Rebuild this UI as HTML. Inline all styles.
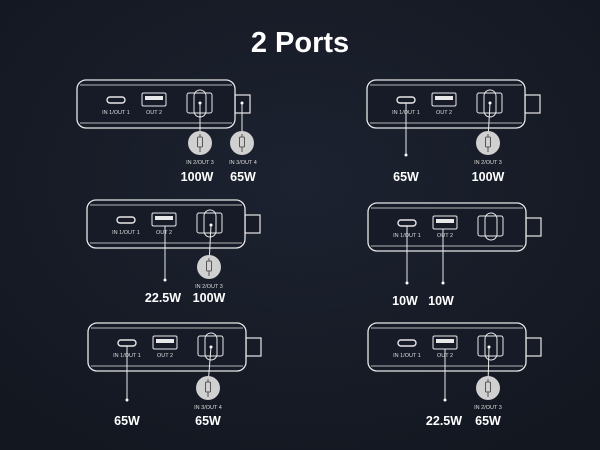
<!DOCTYPE html>
<html><head><meta charset="utf-8"><style>
html,body{margin:0;padding:0;background:#161b27;}
svg{display:block;}
text{font-family:"Liberation Sans",sans-serif;fill:#fff;text-anchor:middle;}
.l{font-size:5.5px;fill:#ddd;}
.p{font-size:12.5px;font-weight:bold;}
</style></head><body>
<svg width="600" height="450" viewBox="0 0 600 450">
<defs>
<radialGradient id="bg" cx="50%" cy="40%" r="70%"><stop offset="0" stop-color="#1c2230"/><stop offset="1" stop-color="#131720"/></radialGradient>
<g id="dev" fill="none" stroke="#e8e8e8">
<rect x="158" y="15" width="15" height="18" stroke-width="1.2" fill="#161b27"/>
<rect x="0" y="0" width="158" height="48" rx="9" stroke-width="1.3" fill="#161b27"/>
<path d="M3 5 H155 M3 43 H155" stroke-width="0.8"/>
<rect x="30" y="17" width="18" height="6" rx="3" stroke-width="1.4"/>
<rect x="65" y="13" width="24" height="13" rx="1.5" stroke-width="1"/>
<rect x="68" y="16" width="18" height="4" fill="#e8e8e8" stroke="none"/>
<rect x="110" y="13" width="25" height="20" rx="2" stroke-width="1"/>
<rect x="117" y="10" width="12" height="27" rx="6" stroke-width="1"/>
</g>
<g id="plug"><circle r="12" fill="#d0d0d0"/><rect x="-2.5" y="-6" width="5" height="10" rx="1" fill="none" stroke="#555" stroke-width="1"/><path d="M0 4V9M0 -6V-9" stroke="#555"/></g>
</defs>
<rect width="600" height="450" fill="url(#bg)"/>
<text x="300" y="52" style="font-size:29px;font-weight:bold">2 Ports</text>

<use href="#dev" x="77" y="80"/>
<use href="#dev" x="367" y="80"/>
<use href="#dev" x="87" y="200"/>
<use href="#dev" x="368" y="203"/>
<use href="#dev" x="88" y="323"/>
<use href="#dev" x="368" y="323"/>

<g stroke="#e8e8e8" stroke-width="1">
<line x1="200" y1="103" x2="200" y2="140"/><line x1="242" y1="103" x2="242" y2="140"/>
<line x1="406" y1="103" x2="406" y2="155"/><line x1="490" y1="103" x2="488" y2="140"/>
<line x1="165" y1="226" x2="165" y2="280"/><line x1="211" y1="225" x2="209" y2="265"/>
<line x1="407" y1="226" x2="407" y2="283"/><line x1="443" y1="229" x2="443" y2="283"/>
<line x1="127" y1="346" x2="127" y2="400"/><line x1="211" y1="347" x2="208" y2="385"/>
<line x1="445" y1="349" x2="445" y2="400"/><line x1="489" y1="347" x2="488" y2="385"/>
</g>

<g fill="#fff">
<circle cx="200" cy="103" r="1.5"/><circle cx="242" cy="103" r="1.5"/><circle cx="490" cy="103" r="1.5"/>
<circle cx="406" cy="155" r="1.5"/>
<circle cx="165" cy="280" r="1.5"/><circle cx="211" cy="225" r="1.5"/>
<circle cx="407" cy="283" r="1.5"/><circle cx="443" cy="283" r="1.5"/>
<circle cx="127" cy="400" r="1.5"/><circle cx="211" cy="347" r="1.5"/>
<circle cx="445" cy="400" r="1.5"/><circle cx="489" cy="347" r="1.5"/>
</g>
<use href="#plug" x="200" y="143"/><use href="#plug" x="242" y="143"/>
<use href="#plug" x="488" y="143"/><use href="#plug" x="209" y="267"/>
<use href="#plug" x="208" y="388"/><use href="#plug" x="488" y="388"/>

<text class="l" x="116" y="114">IN 1/OUT 1</text><text class="l" x="154" y="114">OUT 2</text>
<text class="l" x="406" y="114">IN 1/OUT 1</text><text class="l" x="444" y="114">OUT 2</text>
<text class="l" x="126" y="234">IN 1/OUT 1</text><text class="l" x="164" y="234">OUT 2</text>
<text class="l" x="407" y="237">IN 1/OUT 1</text><text class="l" x="445" y="237">OUT 2</text>
<text class="l" x="127" y="357">IN 1/OUT 1</text><text class="l" x="165" y="357">OUT 2</text>
<text class="l" x="407" y="357">IN 1/OUT 1</text><text class="l" x="445" y="357">OUT 2</text>

<text class="l" x="200" y="164">IN 2/OUT 3</text><text class="l" x="243" y="164">IN 3/OUT 4</text>
<text class="l" x="488" y="164">IN 2/OUT 3</text>
<text class="l" x="209" y="288">IN 2/OUT 3</text>
<text class="l" x="208" y="409">IN 3/OUT 4</text>
<text class="l" x="488" y="409">IN 2/OUT 3</text>

<text class="p" x="197" y="181">100W</text><text class="p" x="243" y="181">65W</text>
<text class="p" x="406" y="181">65W</text><text class="p" x="488" y="181">100W</text>
<text class="p" x="163" y="302">22.5W</text><text class="p" x="209" y="302">100W</text>
<text class="p" x="405" y="305">10W</text><text class="p" x="441" y="305">10W</text>
<text class="p" x="127" y="425">65W</text><text class="p" x="208" y="425">65W</text>
<text class="p" x="444" y="425">22.5W</text><text class="p" x="488" y="425">65W</text>
</svg>
</body></html>
